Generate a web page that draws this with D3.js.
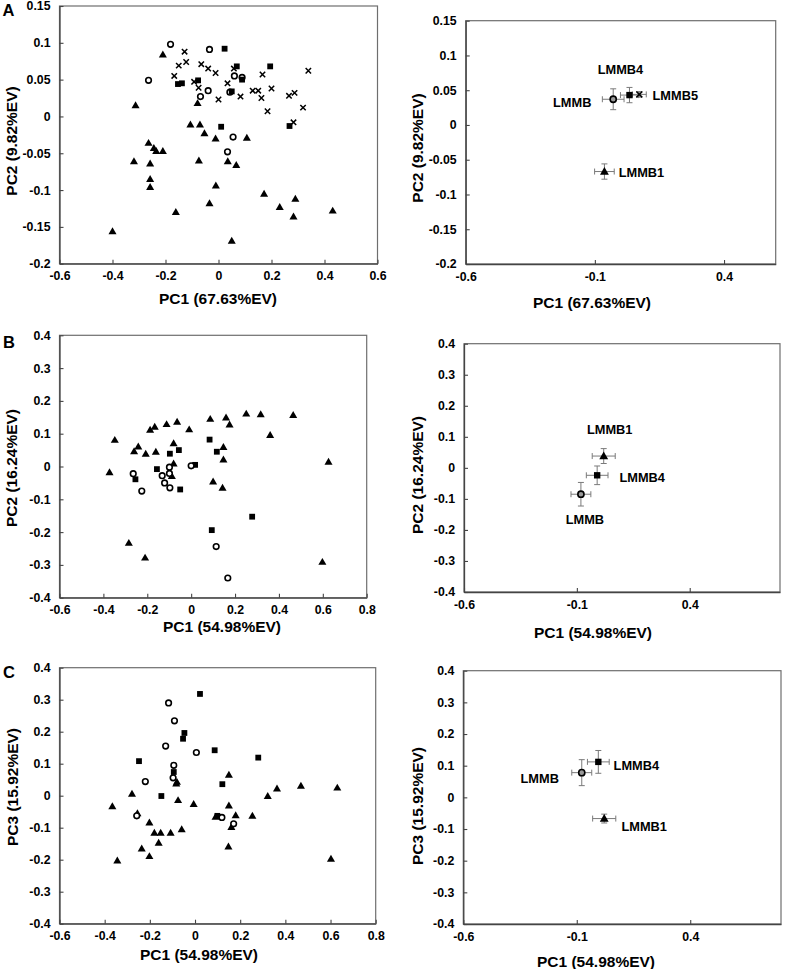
<!DOCTYPE html>
<html>
<head>
<meta charset="utf-8">
<script src="https://cdn.jsdelivr.net/npm/d3@7"></script>
<style>
  html, body { margin: 0; padding: 0; background: #fff; }
  svg { display: block; }
  text { font-family: "Liberation Sans", Arial, sans-serif; font-weight: bold; fill: #000; }
</style>
</head>
<body>
<svg id="chart" width="787" height="969"></svg>
<script>
// ---------------- DATA ----------------
// Panel A (PC1 67.63%, PC2 9.82%) individual scores [PC1, PC2]
const A_LMMB = [[-0.181,0.098],[-0.034,0.091],[-0.264,0.049],[-0.068,0.027],[-0.039,0.035],[0.060,0.055],[0.089,0.053],[0.055,-0.028],[0.034,-0.048],[0.043,0.033]];
const A_LMMB4 = [[0.023,0.092],[0.069,0.068],[0.195,0.068],[-0.077,0.049],[-0.153,0.044],[-0.138,0.045],[0.050,0.034],[0.089,0.050],[0.010,-0.014],[0.268,-0.013]];
const A_LMMB5 = [[-0.128,0.088],[-0.150,0.069],[-0.122,0.074],[-0.167,0.055],[-0.092,0.047],[-0.075,0.039],[-0.065,0.071],[-0.039,0.065],[-0.011,0.059],[0.000,0.023],[0.034,0.045],[0.058,0.065],[0.083,0.027],[0.129,0.035],[0.150,0.035],[0.166,0.057],[0.162,0.025],[0.185,0.007],[0.200,0.038],[0.266,0.028],[0.287,0.032],[0.319,0.012],[0.339,0.062],[0.283,-0.008]];
const A_LMMB1 = [[-0.210,0.084],[-0.313,0.015],[-0.079,0.018],[-0.106,-0.011],[-0.070,-0.011],[-0.053,-0.023],[-0.011,-0.030],[0.107,-0.029],[-0.264,-0.036],[-0.244,-0.043],[-0.235,-0.047],[-0.210,-0.047],[-0.319,-0.061],[-0.258,-0.064],[-0.074,-0.060],[0.035,-0.061],[0.067,-0.066],[-0.258,-0.085],[-0.258,-0.096],[-0.010,-0.094],[0.172,-0.105],[0.290,-0.112],[-0.034,-0.118],[-0.161,-0.130],[0.231,-0.123],[0.431,-0.128],[0.283,-0.136],[-0.400,-0.156],[0.050,-0.169]];
// Panel A group means with SE: [group, PC1, PC2, errPC1, errPC2]
const A_means = [["LMMB",-0.029,0.037,0.042,0.015],["LMMB4",0.034,0.043,0.035,0.011],["LMMB5",0.072,0.044,0.027,0.004],["LMMB1",-0.063,-0.067,0.038,0.011]];

// Panel B (PC1 54.98%, PC2 16.24%)
const B_LMMB1 = [[-0.372,-0.018],[-0.348,0.081],[-0.241,0.061],[-0.260,0.046],[-0.207,0.039],[-0.187,0.112],[-0.166,0.121],[-0.161,0.045],[-0.112,0.129],[-0.064,0.136],[-0.080,0.071],[-0.080,0.009],[-0.088,-0.029],[-0.009,0.113],[0.087,0.145],[0.159,0.149],[0.175,0.128],[0.147,0.059],[0.147,0.021],[0.100,-0.046],[0.143,-0.065],[0.251,0.161],[0.317,0.159],[0.360,0.096],[0.465,0.157],[0.626,0.014],[-0.284,-0.233],[-0.210,-0.278],[0.598,-0.291]];
const B_LMMB4 = [[0.084,0.082],[-0.097,0.039],[-0.056,0.050],[0.117,0.045],[0.018,0.005],[-0.156,-0.008],[-0.254,-0.039],[-0.050,-0.070],[0.094,-0.194],[0.278,-0.153]];
const B_LMMB = [[-0.264,-0.022],[-0.225,-0.075],[-0.132,-0.028],[-0.121,-0.050],[-0.099,-0.002],[-0.099,-0.021],[-0.097,-0.065],[0.000,0.002],[0.114,-0.244],[0.167,-0.340]];
const B_means = [["LMMB1",0.019,0.038,0.051,0.024],["LMMB4",-0.010,-0.024,0.048,0.030],["LMMB",-0.082,-0.085,0.044,0.038]];

// Panel C (PC1 54.98%, PC3 15.92%)
const C_LMMB4 = [[0.022,0.318],[-0.047,0.196],[-0.053,0.178],[-0.248,0.108],[0.087,0.142],[0.280,0.119],[-0.094,0.074],[0.121,0.036],[-0.149,-0.001],[0.099,-0.063]];
const C_LMMB = [[-0.117,0.290],[-0.091,0.234],[-0.130,0.155],[0.006,0.135],[-0.094,0.095],[-0.097,0.056],[-0.220,0.044],[-0.258,-0.063],[0.119,-0.068],[0.171,-0.088]];
const C_LMMB1 = [[-0.366,-0.033],[-0.344,-0.203],[-0.279,0.006],[-0.255,-0.055],[-0.236,-0.165],[-0.202,-0.084],[-0.202,-0.189],[-0.180,-0.116],[-0.152,-0.116],[-0.161,-0.147],[-0.108,-0.116],[-0.059,-0.105],[-0.080,0.043],[-0.075,-0.014],[-0.083,0.038],[-0.006,-0.026],[0.150,0.065],[0.150,-0.031],[0.148,-0.159],[0.091,-0.066],[0.161,-0.098],[0.180,-0.061],[0.254,-0.063],[0.322,-0.001],[0.363,0.022],[0.469,0.031],[0.630,0.025],[0.602,-0.197]];
const C_means = [["LMMB4",-0.005,0.112,0.048,0.036],["LMMB",-0.078,0.078,0.044,0.041],["LMMB1",0.021,-0.067,0.051,0.014]];

// Tick values
const A_xTicks = [-0.6,-0.4,-0.2,0,0.2,0.4,0.6];
const A_yTicks = [0.15,0.1,0.05,0,-0.05,-0.1,-0.15,-0.2];
const A_xTicksMean = [-0.6,-0.1,0.4];
const BC_xTicks = [-0.6,-0.4,-0.2,0,0.2,0.4,0.6,0.8];
const BC_yTicks = [0.4,0.3,0.2,0.1,0,-0.1,-0.2,-0.3,-0.4];
const BC_xTicksMean = [-0.6,-0.1,0.4];

// Axis titles
const titlePC1_A = "PC1 (67.63%EV)";
const titlePC2_A = "PC2 (9.82%EV)";
const titlePC1_BC = "PC1 (54.98%EV)";
const titlePC2_B = "PC2 (16.24%EV)";
const titlePC3_C = "PC3 (15.92%EV)";

// ---------------- LAYOUT / STYLE ----------------
const markerOf = { LMMB: "circle", LMMB4: "square", LMMB5: "cross", LMMB1: "triangle" };

const svg = d3.select("#chart");

function drawMarker(g, type, x, y, big) {
  const k = big ? 1.1 : 1;
  if (type === "circle") {
    g.append("circle").attr("cx", x).attr("cy", y).attr("r", 2.8 * k)
      .attr("fill", big ? "#999" : "#fff").attr("stroke", "#000").attr("stroke-width", 1.6);
  } else if (type === "square") {
    const s = 5.8 * k;
    g.append("rect").attr("x", x - s / 2).attr("y", y - s / 2).attr("width", s).attr("height", s).attr("fill", "#000");
  } else if (type === "triangle") {
    g.append("path").attr("transform", `translate(${x},${y + 0.6})`)
      .attr("d", d3.symbol(d3.symbolTriangle, 28 * k * k)()).attr("fill", "#000");
  } else if (type === "cross") {
    const r = 2.7 * k;
    g.append("path").attr("d", `M${x - r},${y - r}L${x + r},${y + r}M${x - r},${y + r}L${x + r},${y - r}`)
      .attr("stroke", "#000").attr("stroke-width", 1.5).attr("fill", "none");
  }
}

function drawPanel(cfg) {
  const x = d3.scaleLinear().domain(cfg.xDomain).range([cfg.left, cfg.right]);
  const y = d3.scaleLinear().domain(cfg.yDomain).range([cfg.bottom, cfg.top]);
  const g = svg.append("g");

  // frame
  g.append("rect").attr("x", cfg.left).attr("y", cfg.top)
    .attr("width", cfg.right - cfg.left).attr("height", cfg.bottom - cfg.top)
    .attr("fill", "none").attr("stroke", "#6e6e6e").attr("stroke-width", 1.2);

  // axes
  const fmt = d => String(d);
  const ax = g.append("g").attr("transform", `translate(0,${cfg.bottom})`)
    .call(d3.axisBottom(x).tickValues(cfg.xTicks).tickFormat(fmt).tickSizeInner(-4).tickSizeOuter(0).tickPadding(8));
  const ay = g.append("g").attr("transform", `translate(${cfg.left},0)`)
    .call(d3.axisLeft(y).tickValues(cfg.yTicks).tickFormat(fmt).tickSizeInner(-4).tickSizeOuter(0).tickPadding(9));
  [ax, ay].forEach(a => {
    a.attr("font-family", null).attr("font-size", null);
    a.select(".domain").attr("stroke", "#444").attr("stroke-width", 1.3);
    a.selectAll(".tick line").attr("stroke", "#444").attr("stroke-width", 1.1);
    a.selectAll(".tick text").attr("font-size", 12.3).attr("font-weight", "bold")
      .attr("font-family", '"Liberation Sans", Arial, sans-serif').attr("fill", "#000");
  });

  // titles
  svg.append("text").attr("x", cfg.xTitlePos[0]).attr("y", cfg.xTitlePos[1])
    .attr("text-anchor", "middle").attr("font-size", 15.5).text(cfg.xTitle);
  svg.append("text").attr("transform", `translate(${cfg.yTitlePos[0]},${cfg.yTitlePos[1]}) rotate(-90)`)
    .attr("text-anchor", "middle").attr("font-size", 15.5).text(cfg.yTitle);
  if (cfg.letter) {
    svg.append("text").attr("x", cfg.letter[1]).attr("y", cfg.letter[2])
      .attr("font-size", 16.5).text(cfg.letter[0]);
  }

  // individual scores
  if (cfg.groups) {
    cfg.groups.forEach(([name, pts]) => {
      pts.forEach(p => drawMarker(g, markerOf[name], x(p[0]), y(p[1]), false));
    });
  }

  // means with error bars
  if (cfg.means) {
    const eb = g.append("g").attr("stroke", "#7a7a7a").attr("stroke-width", 1).attr("fill", "none");
    const cap = 3;
    cfg.means.forEach(m => {
      const cx = x(m[1]), cy = y(m[2]);
      const x0 = x(m[1] - m[3]), x1 = x(m[1] + m[3]);
      const y0 = y(m[2] - m[4]), y1 = y(m[2] + m[4]);
      eb.append("path").attr("d",
        `M${x0},${cy}H${x1}M${x0},${cy - cap}V${cy + cap}M${x1},${cy - cap}V${cy + cap}` +
        `M${cx},${y0}V${y1}M${cx - cap},${y0}H${cx + cap}M${cx - cap},${y1}H${cx + cap}`);
    });
    cfg.means.forEach(m => {
      drawMarker(g, markerOf[m[0]], x(m[1]), y(m[2]), true);
      const off = cfg.labelOffsets[m[0]];
      g.append("text").attr("x", x(m[1]) + off[0]).attr("y", y(m[2]) + off[1])
        .attr("text-anchor", "middle").attr("font-size", 12.8).text(m[0]);
    });
  }
}

// Panel A left
drawPanel({
  left: 59.5, right: 377.5, top: 6, bottom: 263.7,
  xDomain: [-0.6, 0.6], yDomain: [-0.2, 0.15],
  xTicks: A_xTicks, yTicks: A_yTicks,
  xTitle: titlePC1_A, yTitle: titlePC2_A,
  xTitlePos: [218, 304], yTitlePos: [16.5, 141],
  letter: ["A", 2.5, 16],
  groups: [["LMMB1", A_LMMB1], ["LMMB5", A_LMMB5], ["LMMB", A_LMMB], ["LMMB4", A_LMMB4]]
});
// Panel A right
drawPanel({
  left: 465.7, right: 775.7, top: 20.7, bottom: 264,
  xDomain: [-0.6, 0.6], yDomain: [-0.2, 0.15],
  xTicks: A_xTicksMean, yTicks: A_yTicks,
  xTitle: titlePC1_A, yTitle: titlePC2_A,
  xTitlePos: [592, 308], yTitlePos: [422.5, 148],
  means: A_means,
  labelOffsets: { LMMB: [-41, 8], LMMB4: [-9, -21], LMMB5: [36, 6], LMMB1: [37, 5] }
});
// Panel B left
drawPanel({
  left: 59.5, right: 366.7, top: 335.3, bottom: 597.7,
  xDomain: [-0.6, 0.8], yDomain: [-0.4, 0.4],
  xTicks: BC_xTicks, yTicks: BC_yTicks,
  xTitle: titlePC1_BC, yTitle: titlePC2_B,
  xTitlePos: [222, 632], yTitlePos: [16.5, 468],
  letter: ["B", 3, 348],
  groups: [["LMMB1", B_LMMB1], ["LMMB4", B_LMMB4], ["LMMB", B_LMMB]]
});
// Panel B right
drawPanel({
  left: 464, right: 780, top: 343.7, bottom: 592,
  xDomain: [-0.6, 0.8], yDomain: [-0.4, 0.4],
  xTicks: BC_xTicksMean, yTicks: BC_yTicks,
  xTitle: titlePC1_BC, yTitle: titlePC2_B,
  xTitlePos: [593, 638], yTitlePos: [422.5, 475],
  means: B_means,
  labelOffsets: { LMMB1: [6, -22], LMMB4: [45, 7], LMMB: [4, 30] }
});
// Panel C left
drawPanel({
  left: 59.5, right: 375.7, top: 667.7, bottom: 923.7,
  xDomain: [-0.6, 0.8], yDomain: [-0.4, 0.4],
  xTicks: BC_xTicks, yTicks: BC_yTicks,
  xTitle: titlePC1_BC, yTitle: titlePC3_C,
  xTitlePos: [199, 960], yTitlePos: [17.5, 787],
  letter: ["C", 3, 678],
  groups: [["LMMB1", C_LMMB1], ["LMMB4", C_LMMB4], ["LMMB", C_LMMB]]
});
// Panel C right
drawPanel({
  left: 463.3, right: 781, top: 670.7, bottom: 924,
  xDomain: [-0.6, 0.8], yDomain: [-0.4, 0.4],
  xTicks: BC_xTicksMean, yTicks: BC_yTicks,
  xTitle: titlePC1_BC, yTitle: titlePC3_C,
  xTitlePos: [596, 967], yTitlePos: [422.5, 806],
  means: C_means,
  labelOffsets: { LMMB4: [38, 8], LMMB: [-42, 10], LMMB1: [40, 12] }
});
</script>
</body>
</html>
